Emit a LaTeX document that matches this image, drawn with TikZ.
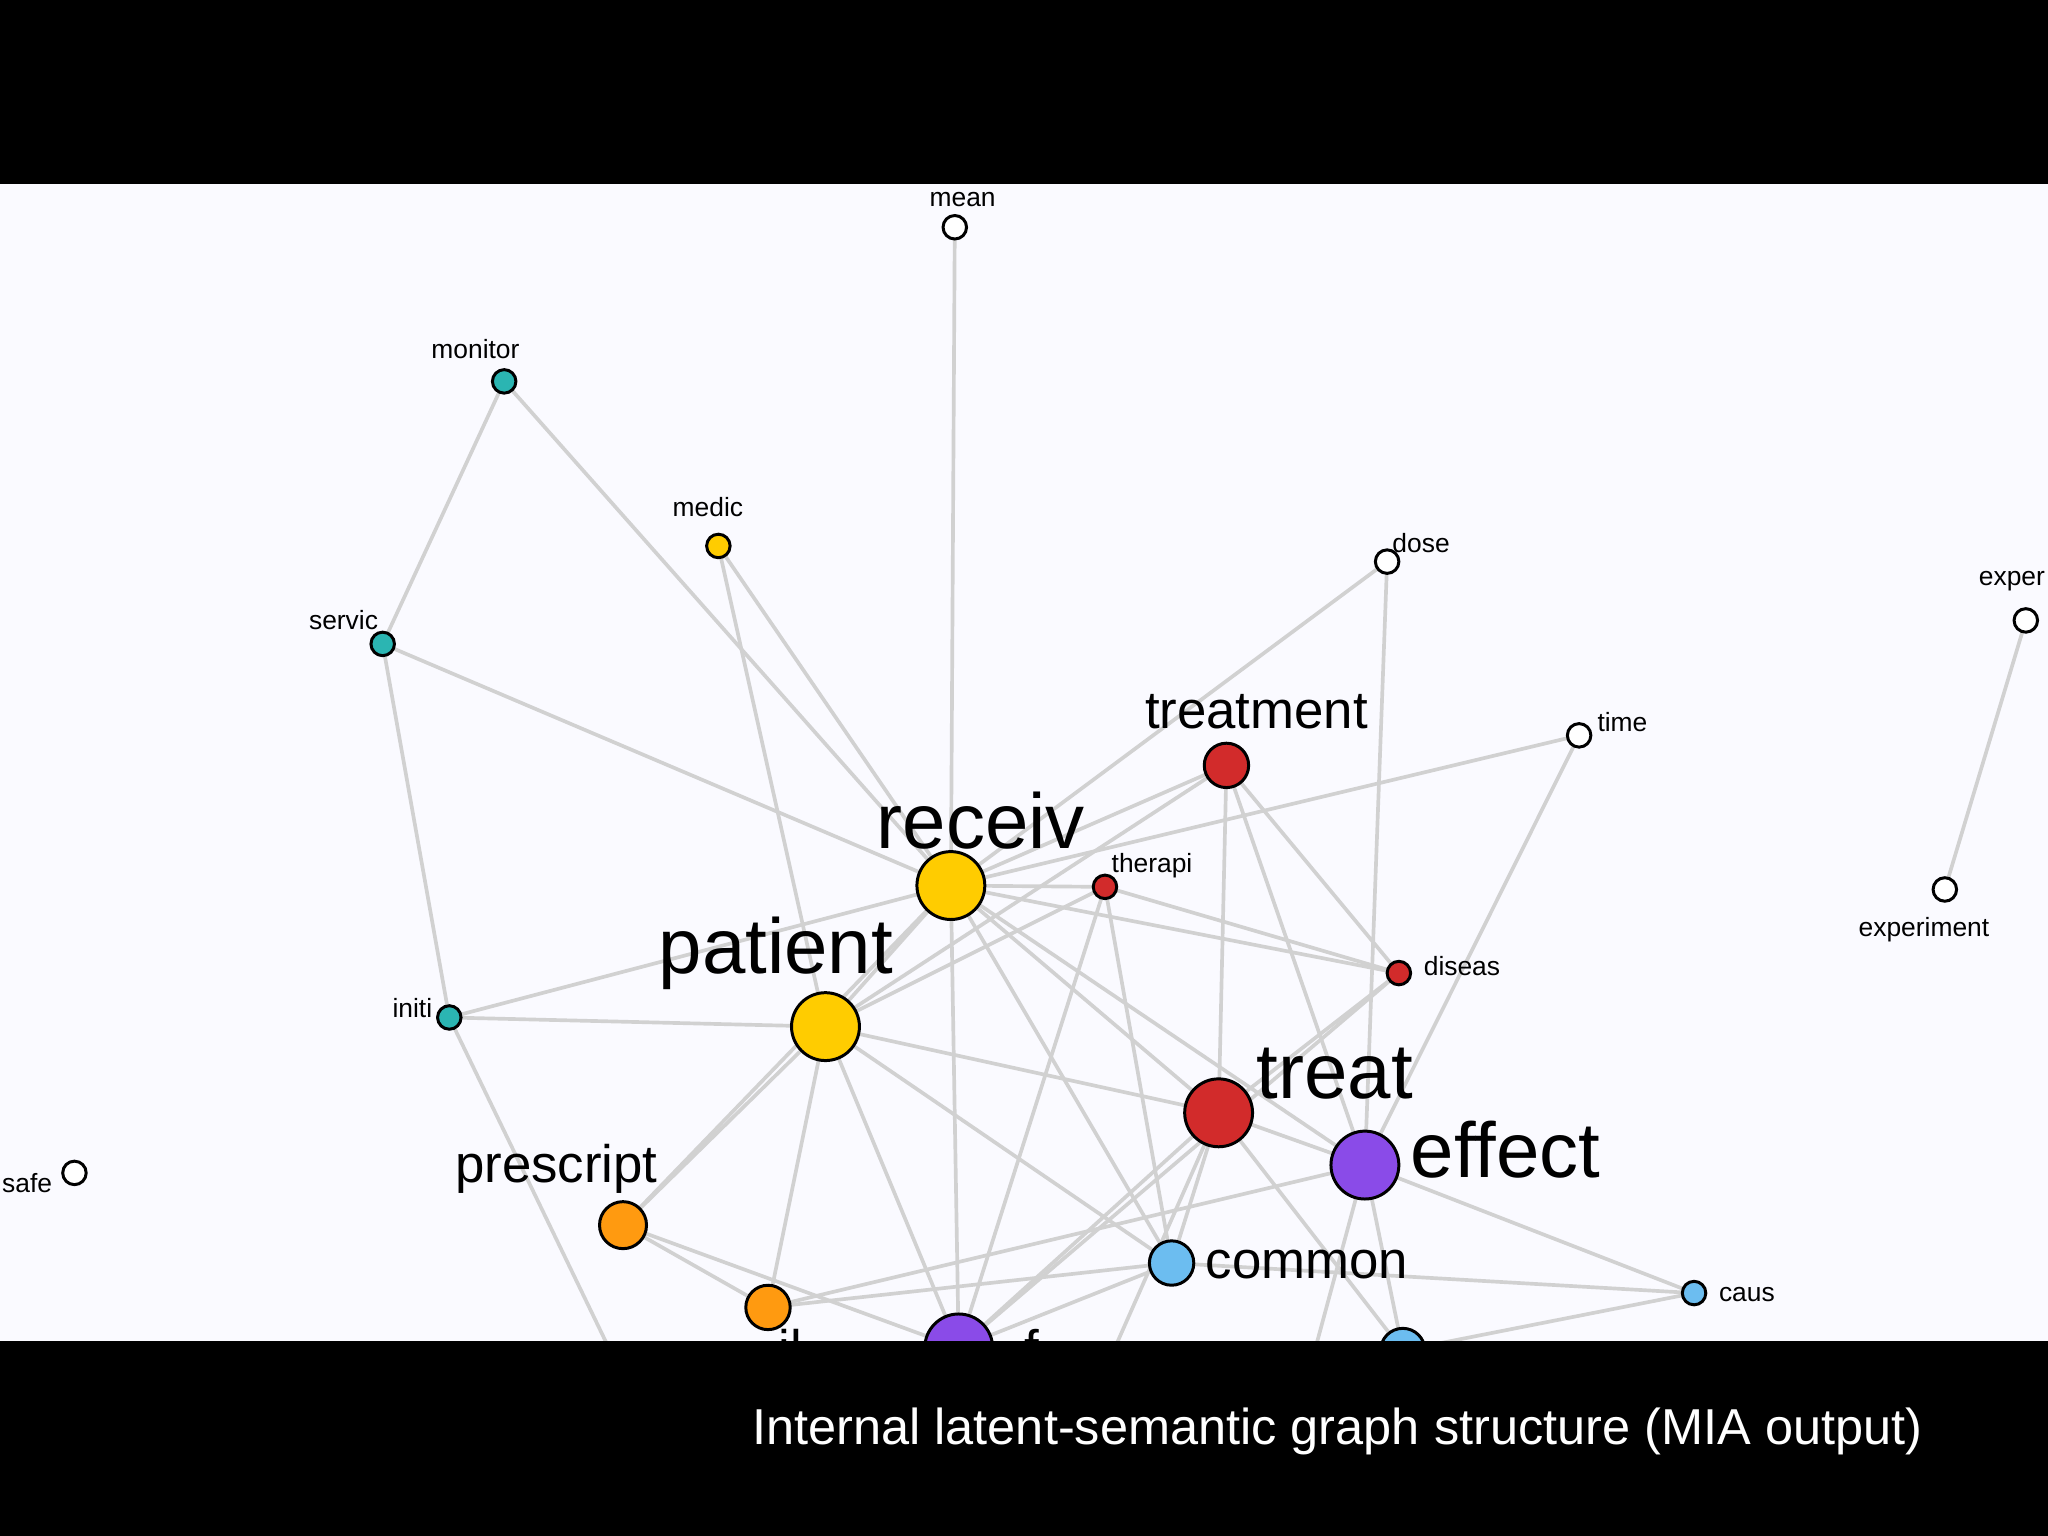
\documentclass[tikz,border=0pt]{standalone}
\usepackage{fontspec}
\setmainfont{Liberation Sans}
\begin{document}
\begin{tikzpicture}[x=0.02cm,y=-0.02cm,
 v/.style={circle,draw=black,line width=1.3pt,inner sep=0pt,minimum size=#1*0.04cm},
 e/.style={draw=black!18,line width=1.6pt},
 sm/.style={font=\fontsize{11.5}{12}\selectfont,inner sep=1pt},
 md/.style={font=\fontsize{23}{24}\selectfont,inner sep=1pt},
 bg/.style={font=\fontsize{34}{36}\selectfont,inner sep=1pt}]
\useasboundingbox (0,0) rectangle (1568,1176);
\fill[white!98!blue] (0,0) rectangle (1568,1176);
\definecolor{teal1}{HTML}{2BB5B2}\definecolor{yel}{HTML}{FFCC00}
\definecolor{red1}{HTML}{D22B2B}\definecolor{pur}{HTML}{8A4BE8}
\definecolor{lb}{HTML}{6CBDF0}\definecolor{org}{HTML}{FF9A10}
\coordinate (mean) at (731,174);
\coordinate (monitor) at (386,292);
\coordinate (medic) at (550,418);
\coordinate (dose) at (1062,430);
\coordinate (exper) at (1551,475);
\coordinate (servic) at (293,493);
\coordinate (time) at (1209,563);
\coordinate (treatment) at (939,586);
\coordinate (receiv) at (728,678);
\coordinate (therapi) at (846,679);
\coordinate (experiment) at (1489,681);
\coordinate (diseas) at (1071,745);
\coordinate (initi) at (344,779);
\coordinate (patient) at (632,786);
\coordinate (treat) at (933,852);
\coordinate (effect) at (1045,892);
\coordinate (safe) at (57,898);
\coordinate (prescript) at (477,938);
\coordinate (common) at (897,967);
\coordinate (caus) at (1297,990);
\coordinate (org2) at (588,1001);
\coordinate (pur2) at (734,1032);
\coordinate (blue2) at (1074,1034);
\coordinate (off1) at (470,1040);
\coordinate (off2) at (850,1040);
\coordinate (off3) at (1005,1040);
\foreach \a/\b in {mean/receiv,monitor/servic,monitor/receiv,medic/receiv,medic/patient,
 servic/receiv,servic/initi,dose/receiv,dose/effect,time/receiv,time/effect,
 treatment/receiv,treatment/patient,treatment/treat,treatment/diseas,treatment/effect,
 receiv/therapi,receiv/patient,receiv/initi,receiv/prescript,receiv/treat,receiv/effect,
 receiv/common,receiv/pur2,receiv/diseas,therapi/diseas,therapi/patient,therapi/common,
 therapi/pur2,initi/patient,initi/off1,patient/treat,patient/prescript,patient/org2,
 patient/pur2,patient/common,diseas/treat,diseas/pur2,treat/effect,treat/common,
 treat/pur2,treat/blue2,effect/caus,effect/blue2,effect/off3,treat/off2,org2/common,common/caus,
 common/pur2,caus/blue2,prescript/org2,prescript/pur2,experiment/exper,org2/effect}
 \draw[e] (\a) -- (\b);
\node[v=9,fill=white] (nmean) at (mean) {};
\node[v=9,fill=teal1] (nmonitor) at (monitor) {};
\node[v=9,fill=yel] (nmedic) at (medic) {};
\node[v=9,fill=white] (ndose) at (dose) {};
\node[v=9,fill=white] (nexper) at (exper) {};
\node[v=9,fill=teal1] (nservic) at (servic) {};
\node[v=9,fill=white] (ntime) at (time) {};
\node[v=17,fill=red1] (ntreatment) at (treatment) {};
\node[v=26,fill=yel] (nreceiv) at (receiv) {};
\node[v=9,fill=red1] (ntherapi) at (therapi) {};
\node[v=9,fill=white] (nexperiment) at (experiment) {};
\node[v=9,fill=red1] (ndiseas) at (diseas) {};
\node[v=9,fill=teal1] (ninit) at (initi) {};
\node[v=26,fill=yel] (npatient) at (patient) {};
\node[v=26,fill=red1] (ntreat) at (treat) {};
\node[v=26,fill=pur] (neffect) at (effect) {};
\node[v=9,fill=white] (nsafe) at (safe) {};
\node[v=18,fill=org] (nprescript) at (prescript) {};
\node[v=17,fill=lb] (ncommon) at (common) {};
\node[v=9,fill=lb] (ncaus) at (caus) {};
\node[v=17,fill=org] (norg2) at (org2) {};
\node[v=26,fill=pur] (npur2) at (pur2) {};
\node[v=17,fill=lb] (nblue2) at (blue2) {};
\node[sm] at (737,153) {mean};
\node[sm] at (364,267) {monitor};
\node[sm] at (542,388) {medic};
\node[sm,anchor=west] at (1064,416) {dose};
\node[sm,anchor=west] at (1513,445) {exper};
\node[sm] at (263,475) {servic};
\node[sm,anchor=west] at (1221,553) {time};
\node[md] at (962,545) {treatment};
\node[bg] at (751,628) {receiv};
\node[sm,anchor=west] at (849,663) {therapi};
\node[sm] at (1473,712) {experiment};
\node[sm,anchor=west] at (1088,740) {diseas};
\node[sm,anchor=east] at (333,772) {initi};
\node[bg] at (594,730) {patient};
\node[bg,anchor=west] at (960,822) {treat};
\node[bg,anchor=west] at (1078,880) {effect};
\node[sm,anchor=east] at (42,906) {safe};
\node[md] at (426,895) {prescript};
\node[md,anchor=west] at (921,968) {common};
\node[sm,anchor=west] at (1314,991) {caus};
\node[md] at (605,1032) {il};
\node[md] at (790,1032) {f};
\fill[black] (0,0) rectangle (1568,141);
\fill[black] (0,1027) rectangle (1568,1176);
\node[text=white,font=\fontsize{22}{24}\selectfont,anchor=east] at (1478,1096) {Internal latent-semantic graph structure (MIA output)};
\end{tikzpicture}
\end{document}
